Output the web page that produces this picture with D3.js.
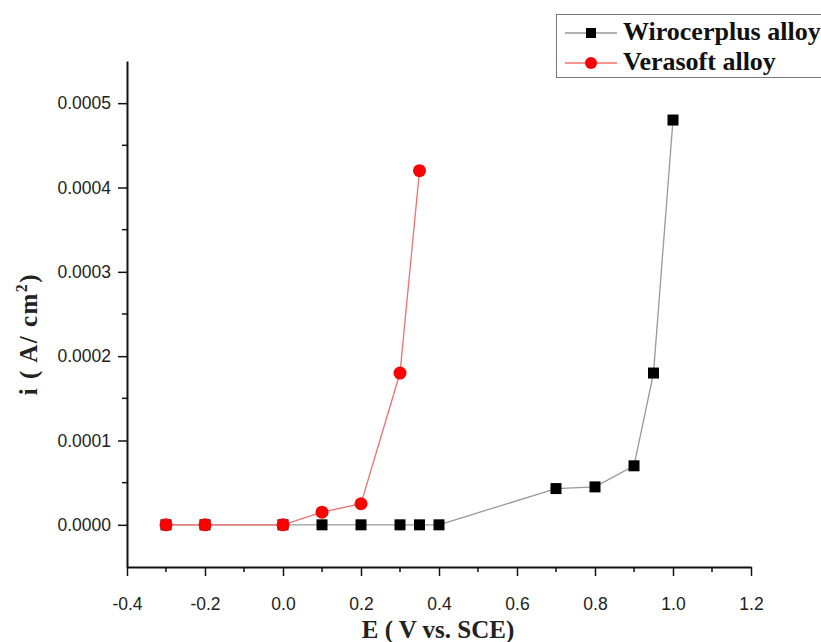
<!DOCTYPE html>
<html>
<head>
<meta charset="utf-8">
<script src="https://cdn.jsdelivr.net/npm/d3@7"></script>
<style>
  body { margin: 0; background: #fff; }
  svg { display: block; }
</style>
</head>
<body>
<div id="chart"></div>
<script>
// data
const wiroE = [-0.3, -0.2, 0.0, 0.1, 0.2, 0.3, 0.35, 0.4, 0.7, 0.8, 0.9, 0.95, 1.0];
const wiroI = [0, 0, 0, 0, 0, 0, 0, 0, 0.000043, 0.000045, 0.00007, 0.00018, 0.00048];
const veraE = [-0.3, -0.2, 0.0, 0.1, 0.2, 0.3, 0.35];
const veraI = [0, 0, 0, 0.000015, 0.000025, 0.00018, 0.00042];
const seriesNames = ['Wirocerplus alloy', 'Verasoft alloy'];
const xTicks = [-0.4, -0.2, 0.0, 0.2, 0.4, 0.6, 0.8, 1.0, 1.2];
const yTicks = [0, 0.0001, 0.0002, 0.0003, 0.0004, 0.0005];

const W = 821, H = 642;
const svg = d3.select('#chart').append('svg').attr('width', W).attr('height', H);

const x = d3.scaleLinear().domain([-0.4, 1.2]).range([127, 751]);
const y = d3.scaleLinear().domain([-0.00005, 0.00055]).range([567, 61]);

const tickFont = 'Liberation Sans, Arial, sans-serif';
const serif = 'Liberation Serif, Times New Roman, serif';

// minor ticks
const xMinor = d3.range(-0.3, 1.2, 0.2);
const yMinor = d3.range(0.00005, 0.00055, 0.0001);

svg.append('g').selectAll('line').data(xMinor).join('line')
    .attr('x1', d => x(d)).attr('x2', d => x(d))
    .attr('y1', 567).attr('y2', 572)
    .attr('stroke', '#111').attr('stroke-width', 1.5);
svg.append('g').selectAll('line').data(yMinor).join('line')
    .attr('y1', d => y(d)).attr('y2', d => y(d))
    .attr('x1', 127).attr('x2', 122)
    .attr('stroke', '#111').attr('stroke-width', 1.5);

// x axis
const xAxis = svg.append('g').attr('transform', 'translate(0,567)')
    .call(d3.axisBottom(x).tickValues(xTicks).tickSize(9).tickSizeOuter(0));
xAxis.select('.domain').attr('stroke', '#111').attr('stroke-width', 2);
xAxis.selectAll('.tick line').attr('stroke', '#111').attr('stroke-width', 1.5);
xAxis.selectAll('.tick text').attr('font-family', tickFont).attr('font-size', 17.5)
    .attr('fill', '#222').attr('y', 43).attr('dy', 0)
    .text(d => d < 0 ? '-' + Math.abs(d).toFixed(1) : d.toFixed(1));

// y axis
const yAxis = svg.append('g').attr('transform', 'translate(127,0)')
    .call(d3.axisLeft(y).tickValues(yTicks).tickFormat(d3.format('.4f')).tickSize(9).tickSizeOuter(0));
yAxis.select('.domain').attr('stroke', '#111').attr('stroke-width', 2);
yAxis.selectAll('.tick line').attr('stroke', '#111').attr('stroke-width', 1.5);
yAxis.selectAll('.tick text').attr('font-family', tickFont).attr('font-size', 17.5)
    .attr('fill', '#222').attr('x', -16);

// axis titles
svg.append('text').attr('x', 438).attr('y', 638).attr('text-anchor', 'middle')
    .attr('font-family', serif).attr('font-weight', 'bold').attr('font-size', 25)
    .attr('fill', '#222').text('E ( V vs. SCE)');

const yt = svg.append('text').attr('transform', 'translate(37,334) rotate(-90)')
    .attr('text-anchor', 'middle')
    .attr('font-family', serif).attr('font-weight', 'bold').attr('font-size', 25)
    .attr('letter-spacing', 1.5)
    .attr('fill', '#222');
yt.append('tspan').text('i ( A/ cm');
yt.append('tspan').attr('dy', -10).attr('font-size', 16).text('2');
yt.append('tspan').attr('dy', 10).text(')');

// series
const wiro = wiroE.map((e, i) => [e, wiroI[i]]);
const vera = veraE.map((e, i) => [e, veraI[i]]);
const line = d3.line().x(d => x(d[0])).y(d => y(d[1]));

svg.append('path').datum(wiro).attr('d', line)
    .attr('fill', 'none').attr('stroke', '#999').attr('stroke-width', 1.3);
svg.append('g').selectAll('rect').data(wiro).join('rect')
    .attr('x', d => x(d[0]) - 5.5).attr('y', d => y(d[1]) - 5.5)
    .attr('width', 11).attr('height', 11).attr('fill', '#000');

svg.append('path').datum(vera).attr('d', line)
    .attr('fill', 'none').attr('stroke', '#f07070').attr('stroke-width', 1.3);
svg.append('g').selectAll('circle').data(vera).join('circle')
    .attr('cx', d => x(d[0])).attr('cy', d => y(d[1]))
    .attr('r', 6.5).attr('fill', '#ff0000');

// legend
const lg = svg.append('g');
lg.append('rect').attr('x', 556.5).attr('y', 14.5).attr('width', 280).attr('height', 63)
    .attr('fill', '#fff').attr('stroke', '#777').attr('stroke-width', 1);
const rows = [
    { name: seriesNames[0], stroke: '#999', cy: 33 },
    { name: seriesNames[1], stroke: '#f07070', cy: 63 }
];
rows.forEach((r, i) => {
    lg.append('line').attr('x1', 565).attr('x2', 617).attr('y1', r.cy).attr('y2', r.cy)
        .attr('stroke', r.stroke).attr('stroke-width', 1.3);
    if (i === 0) {
        lg.append('rect').attr('x', 586).attr('y', r.cy - 5).attr('width', 10).attr('height', 10).attr('fill', '#000');
    } else {
        lg.append('circle').attr('cx', 591).attr('cy', r.cy).attr('r', 6).attr('fill', '#ff0000');
    }
    lg.append('text').attr('x', 623).attr('y', r.cy + 7)
        .attr('font-family', serif).attr('font-weight', 'bold').attr('font-size', 26)
        .attr('fill', '#111').text(r.name);
});
</script>
</body>
</html>
